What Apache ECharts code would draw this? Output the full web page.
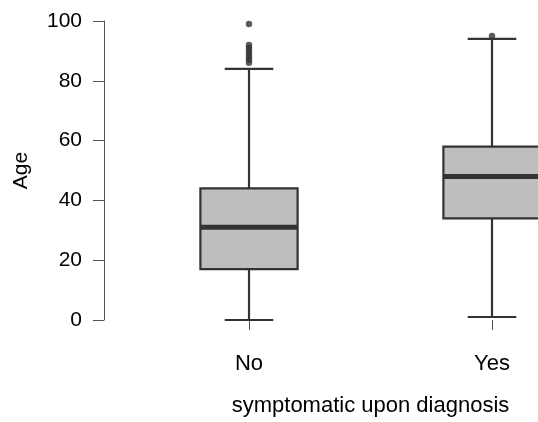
<!DOCTYPE html>
<html>
<head>
<meta charset="utf-8">
<script src="https://cdn.jsdelivr.net/npm/echarts@6/dist/echarts.min.js"></script>
<style>
  html, body { margin: 0; padding: 0; background: #fff; overflow: hidden; width: 538px; height: 422px; }
  #chart { width: 614px; height: 422px; }
</style>
</head>
<body>
<div id="chart"></div>
<script>
// groups on the x axis
const categories = ['No', 'Yes']
// five-number summary per group
const whiskerLow = [0, 1]
const q1 = [17, 34]
const median = [31, 48]
const q3 = [44, 58]
const whiskerHigh = [84, 94]
// points outside the whiskers
const outliersNo = [86, 87, 88, 89, 90, 91, 92, 99]
const outliersYes = [95]
const yTicks = [0, 20, 40, 60, 80, 100]

const lineColor = '#333333'
const boxFill = '#bebebe'
const font = 'Liberation Sans, Arial, sans-serif'

const boxData = categories.map((c, i) => [i, whiskerLow[i], q1[i], median[i], q3[i], whiskerHigh[i]])
const outlierData = []
outliersNo.forEach(v => outlierData.push([0, v]))
outliersYes.forEach(v => outlierData.push([1, v]))

// the plot runs past the right edge of the window, like the cropped original
const chart = echarts.init(document.getElementById('chart'))

const option = {
    animation: false,
    backgroundColor: '#ffffff',
    grid: {
        left: 127.5,
        right: 0.5,
        top: 21,
        bottom: 94
    },
    xAxis: {
        type: 'category',
        data: categories,
        offset: 15,
        name: 'symptomatic upon diagnosis',
        nameLocation: 'middle',
        nameGap: 60,
        nameTextStyle: { fontSize: 22, color: '#000', fontFamily: font },
        axisLine: { show: false },
        axisTick: { show: true, alignWithLabel: true, length: 10, lineStyle: { color: '#555', width: 1 } },
        axisLabel: { fontSize: 22, color: '#000', fontFamily: font, margin: 18 },
        splitLine: { show: false }
    },
    yAxis: {
        type: 'value',
        min: yTicks[0],
        max: yTicks[yTicks.length - 1],
        interval: 20,
        offset: 23.5,
        name: 'Age',
        nameLocation: 'middle',
        nameRotate: 90,
        nameGap: 72,
        nameTextStyle: { fontSize: 21, color: '#000', fontFamily: font },
        axisLine: { show: true, lineStyle: { color: '#555', width: 1 } },
        axisTick: { show: true, length: 11, lineStyle: { color: '#555', width: 1 } },
        axisLabel: { fontSize: 21, color: '#000', fontFamily: font, margin: 22 },
        splitLine: { show: false }
    },
    series: [
        {
            type: 'custom',
            data: boxData,
            encode: { x: 0, y: [1, 2, 3, 4, 5] },
            clip: false,
            renderItem: function (params, api) {
                const idx = api.value(0)
                const bw = api.size([1, 0])[0]
                const half = bw * 0.2
                const capHalf = bw * 0.1
                const pLow = api.coord([idx, api.value(1)])
                const pQ1 = api.coord([idx, api.value(2)])
                const pMed = api.coord([idx, api.value(3)])
                const pQ3 = api.coord([idx, api.value(4)])
                const pHigh = api.coord([idx, api.value(5)])
                const x = pMed[0]
                const stroke = { stroke: lineColor, lineWidth: 2.2 }
                return {
                    type: 'group',
                    children: [
                        { type: 'line', shape: { x1: x, y1: pQ1[1], x2: x, y2: pLow[1] }, style: stroke },
                        { type: 'line', shape: { x1: x, y1: pQ3[1], x2: x, y2: pHigh[1] }, style: stroke },
                        { type: 'line', shape: { x1: x - capHalf, y1: pLow[1], x2: x + capHalf, y2: pLow[1] }, style: stroke },
                        { type: 'line', shape: { x1: x - capHalf, y1: pHigh[1], x2: x + capHalf, y2: pHigh[1] }, style: stroke },
                        {
                            type: 'rect',
                            shape: { x: x - half, y: pQ3[1], width: half * 2, height: pQ1[1] - pQ3[1] },
                            style: { fill: boxFill, stroke: lineColor, lineWidth: 2.2 }
                        },
                        { type: 'line', shape: { x1: x - half, y1: pMed[1], x2: x + half, y2: pMed[1] }, style: { stroke: lineColor, lineWidth: 5 } }
                    ]
                }
            }
        },
        {
            type: 'scatter',
            data: outlierData,
            symbol: 'circle',
            symbolSize: 6.5,
            itemStyle: { color: lineColor },
            z: 3
        }
    ]
}

chart.setOption(option)
</script>
</body>
</html>
